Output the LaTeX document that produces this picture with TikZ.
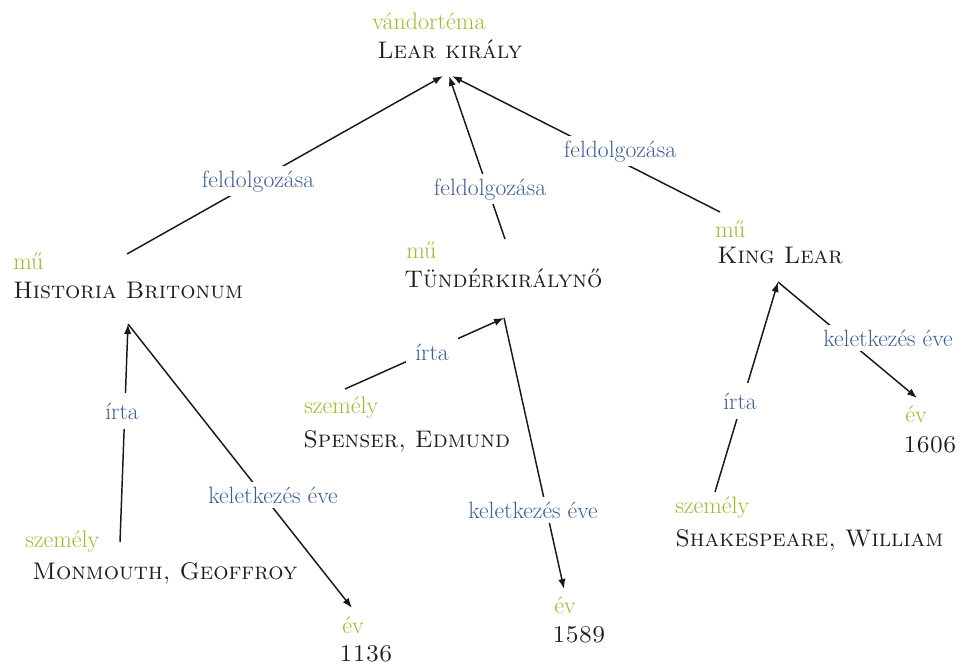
\documentclass[tikz,border=0pt]{standalone}
\usepackage{fontspec}
\usetikzlibrary{arrows.meta}
\definecolor{typegreen}{RGB}{154,190,42}
\definecolor{relblue}{RGB}{59,94,154}
\definecolor{namegray}{RGB}{30,30,30}
\begin{document}
\begin{tikzpicture}[x=0.75pt,y=-0.75pt,
  typ/.style={anchor=base west, inner sep=0pt, text=typegreen, font=\fontsize{18}{20}\selectfont},
  nam/.style={anchor=base west, inner sep=0pt, text=namegray, font=\fontsize{18}{20}\selectfont\scshape},
  bignam/.style={nam, font=\fontsize{18}{20}\selectfont\scshape},
  rel/.style={anchor=base, fill=white, inner sep=3.5pt, text=relblue, font=\fontsize{17.7}{20}\selectfont},
  conn/.style={line width=1.1pt, draw=black!90},
  arr/.style={conn, -{Latex[length=7.5pt,width=5.5pt]}}]
\useasboundingbox (0,0) rectangle (960,664);

% entity nodes
\node[typ] (tLear) at (372,29) {vándortéma};
\node[bignam] (nLear) at (377,58) {Lear király};

\node[typ] (tHist) at (13,269) {mű};
\node[nam] (nHist) at (13,298) {Historia Britonum};

\node[typ] (tTund) at (406,258) {mű};
\node[nam] (nTund) at (404,287) {Tündérkirálynő};

\node[typ] (tKing) at (715,237) {mű};
\node[nam] (nKing) at (717,263) {King Lear};

\node[typ] (tMon) at (25,547) {személy};
\node[nam] (nMon) at (32,579) {Monmouth, Geoffroy};

\node[typ] (tY1) at (342,633) {év};
\node[nam] (nY1) at (339,661) {1136};

\node[typ] (tSpen) at (304,413) {személy};
\node[nam] (nSpen) at (303,447) {Spenser, Edmund};

\node[typ] (tY2) at (554,613) {év};
\node[nam] (nY2) at (552,642) {1589};

\node[typ] (tY3) at (905,422) {év};
\node[nam] (nY3) at (903,452) {1606};

\node[typ] (tShak) at (675,513) {személy};
\node[nam] (nShak) at (675,546) {Shakespeare, William};

% connection points
\coordinate (learIn1) at (443,76);
\coordinate (learIn2) at (449,76);
\coordinate (learIn3) at (452,76);
\coordinate (histTop) at (127,254);
\coordinate (histBot) at (128,324);
\coordinate (tundTop) at (505,239);
\coordinate (tundBot) at (504,318);
\coordinate (kingTop) at (720,212);
\coordinate (kingBot) at (778,282);
\coordinate (monTop) at (120,542);
\coordinate (spenTop) at (345,389);
\coordinate (shakTop) at (715,492);
\coordinate (y1Top) at (352,608);
\coordinate (y2Top) at (564,589);
\coordinate (y3Top) at (917,398);

% connectors
\draw[arr] (histTop) -- (learIn1);
\draw[arr] (tundTop) -- (learIn2);
\draw[arr] (kingTop) -- (learIn3);
\draw[arr] (monTop) -- (histBot);
\draw[arr] (histBot) -- (y1Top);
\draw[arr] (spenTop) -- (tundBot);
\draw[arr] (tundBot) -- (y2Top);
\draw[arr] (shakTop) -- (kingBot);
\draw[arr] (kingBot) -- (y3Top);

% relation labels
\node[rel] (r1) at (258,187) {feldolgozása};
\node[rel] (r2) at (490,195) {feldolgozása};
\node[rel] (r3) at (620,157) {feldolgozása};
\node[rel, inner sep=7pt] (r4) at (122,419) {írta};
\node[rel] (r5) at (273,503) {keletkezés éve};
\node[rel, inner sep=7pt] (r6) at (432,360) {írta};
\node[rel] (r7) at (533,518) {keletkezés éve};
\node[rel] (r8) at (888,346) {keletkezés éve};
\node[rel, inner sep=7pt] (r9) at (740,409) {írta};
\end{tikzpicture}
\end{document}
